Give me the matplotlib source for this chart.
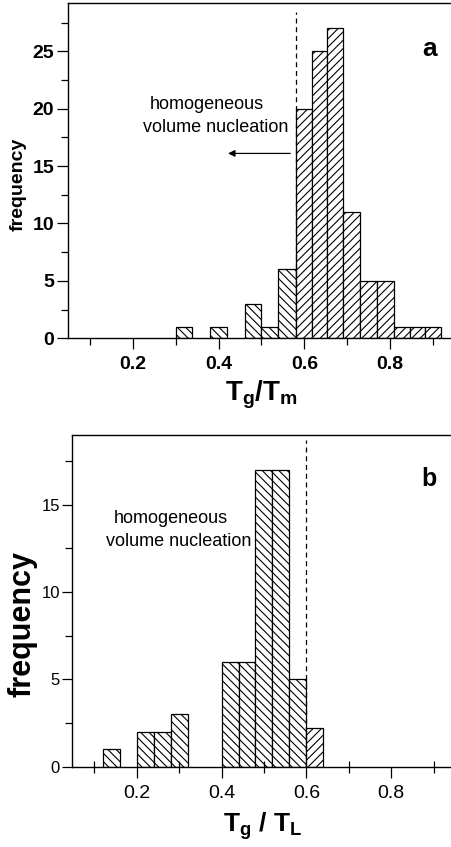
import matplotlib
matplotlib.use("Agg")
import matplotlib.pyplot as plt
from matplotlib.ticker import MultipleLocator

plt.rcParams['font.family'] = ['Liberation Sans', 'DejaVu Sans']
plt.rcParams['mathtext.fontset'] = 'custom'
plt.rcParams['mathtext.rm'] = 'Liberation Sans'
plt.rcParams['mathtext.bf'] = 'Liberation Sans:bold'
plt.rcParams['mathtext.it'] = 'Liberation Sans:italic'
plt.rcParams['hatch.linewidth'] = 0.8

# ---- Panel a data: Tg/Tm histogram (bin edges and counts) ----
a_left = [0.300, 0.381, 0.462, 0.500, 0.539, 0.580, 0.617, 0.652, 0.690, 0.730, 0.770, 0.809, 0.846, 0.881]
a_right = [0.339, 0.419, 0.500, 0.539, 0.580, 0.617, 0.652, 0.690, 0.730, 0.770, 0.809, 0.846, 0.881, 0.919]
a_counts = [1, 1, 3, 1, 6, 20, 25, 27, 11, 5, 5, 1, 1, 1]
a_threshold = 0.58

# ---- Panel b data: Tg/TL histogram ----
b_left = [0.12, 0.20, 0.24, 0.28, 0.40, 0.44, 0.48, 0.52, 0.56, 0.60]
b_right = [0.16, 0.24, 0.28, 0.32, 0.44, 0.48, 0.52, 0.56, 0.60, 0.64]
b_counts = [1, 2, 2, 3, 6, 6, 17, 17, 5, 2.2]
b_threshold = 0.60

a_xticks = [0.2, 0.4, 0.6, 0.8]
b_xticks = [0.2, 0.4, 0.6, 0.8]
a_yticks = [0, 5, 10, 15, 20, 25]
b_yticks = [0, 5, 10, 15]

W, H = 452, 847
fig = plt.figure(figsize=(W / 100, H / 100), dpi=100)

ax1 = fig.add_axes([68 / W, (H - 338.3) / H, 386.5 / W, 335.3 / H])
ax2 = fig.add_axes([72.3 / W, (H - 766.7) / H, 381.6 / W, 331.7 / H])


def draw_bars(ax, lefts, rights, counts, thr):
    for l, r, c in zip(lefts, rights, counts):
        hatch = '\\\\\\\\' if (l + r) / 2 < thr else '////'
        ax.bar(l, c, width=r - l, align='edge', facecolor='white',
               edgecolor='black', linewidth=0.9, hatch=hatch)


draw_bars(ax1, a_left, a_right, a_counts, a_threshold)
draw_bars(ax2, b_left, b_right, b_counts, b_threshold)

# panel a
ax1.set_xlim(0.049, 0.95)
ax1.set_ylim(0, 29.2)
ax1.plot([a_threshold, a_threshold], [0, 28.4], ls=(0, (4, 3)), color='black', lw=0.9)
ax1.text(0.373, 20.0, 'homogeneous', ha='center', va='baseline', fontsize=13)
ax1.text(0.394, 17.94, 'volume nucleation', ha='center', va='baseline', fontsize=13)
ax1.annotate('', xy=(0.422, 16.1), xytext=(0.567, 16.1),
             arrowprops=dict(arrowstyle='-|>', color='black', lw=0.9,
                             mutation_scale=10, shrinkA=0, shrinkB=0))
ax1.text(0.893, 25.2, 'a', ha='center', va='center', fontsize=19, fontweight='bold')
ax1.set_xticks(a_xticks)
ax1.set_xticklabels([f'{t:.1f}' for t in a_xticks])
ax1.set_xticks([0.1, 0.3, 0.5, 0.7, 0.9], minor=True)
ax1.set_yticks(a_yticks)
ax1.yaxis.set_minor_locator(MultipleLocator(2.5))
for lab in ax1.get_xticklabels() + ax1.get_yticklabels():
    lab.set_fontweight('bold')
    lab.set_fontsize(14)
ax1.tick_params(which='major', direction='out', length=8, width=0.9, pad=2)
ax1.tick_params(which='minor', direction='out', length=5, width=0.9)
ax1.tick_params(axis='x', which='major', pad=5)
ax1.set_xlabel(r'$\mathbf{T_g/T_m}$', fontsize=20, labelpad=4)
ax1.set_ylabel('frequency', fontsize=14, fontweight='bold')
ax1.yaxis.set_label_coords(-0.106, 0.46)

# panel b
ax2.set_xlim(0.048, 0.948)
ax2.set_ylim(0, 19.0)
ax2.plot([b_threshold, b_threshold], [0, 18.7], ls=(0, (4, 3)), color='black', lw=0.9)
ax2.text(0.280, 13.96, 'homogeneous', ha='center', va='baseline', fontsize=13)
ax2.text(0.298, 12.67, 'volume nucleation', ha='center', va='baseline', fontsize=13)
ax2.text(0.889, 16.5, 'b', ha='center', va='center', fontsize=18, fontweight='bold')
ax2.set_xticks(b_xticks)
ax2.set_xticklabels([f'{t:.1f}' for t in b_xticks])
ax2.set_xticks([0.1, 0.3, 0.5, 0.7, 0.9], minor=True)
ax2.set_yticks(b_yticks)
ax2.yaxis.set_minor_locator(MultipleLocator(2.5))
ax2.tick_params(axis='x', which='major', direction='out', length=8, width=0.9, labelsize=14, pad=5)
ax2.tick_params(axis='x', which='minor', direction='inout', length=8, width=0.9)
ax2.tick_params(axis='y', which='major', direction='out', length=7, width=0.9, labelsize=12, pad=2)
ax2.tick_params(axis='y', which='minor', direction='out', length=5, width=0.9)
ax2.set_xlabel(r'$\mathbf{T_g\ /\ T_L}$', fontsize=19, labelpad=6)
ax2.set_ylabel('frequency', fontsize=22, fontweight='bold')
ax2.yaxis.set_label_coords(-0.090, 0.43)

for ax in (ax1, ax2):
    for s in ax.spines.values():
        s.set_linewidth(1.0)

fig.savefig('out.png', dpi=100)
